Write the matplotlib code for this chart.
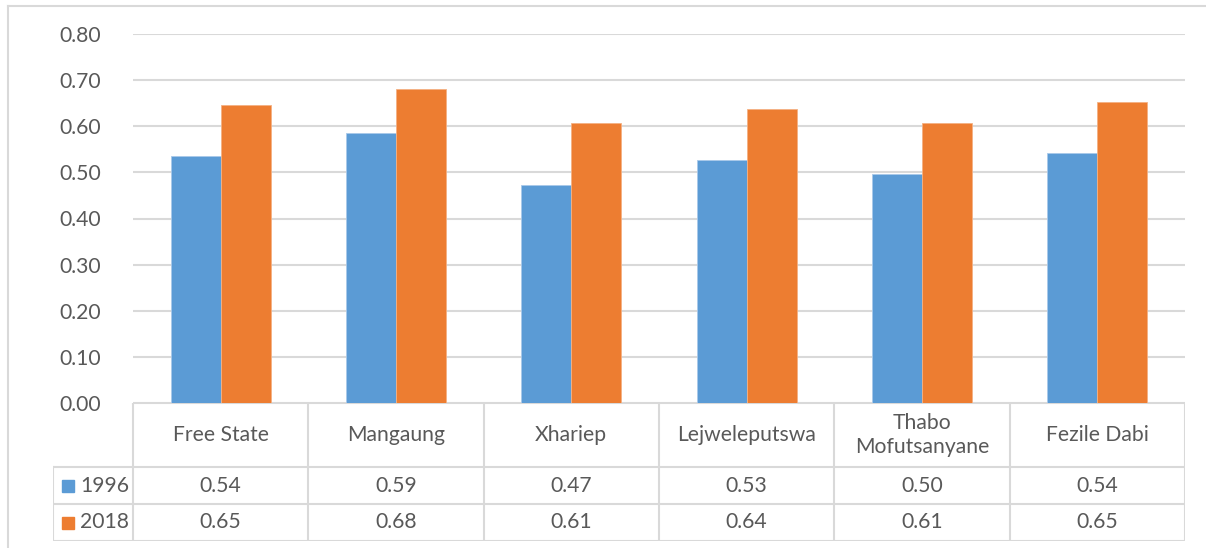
import matplotlib
matplotlib.use("Agg")
import matplotlib.pyplot as plt
from matplotlib.patches import Rectangle

plt.rcParams['font.family'] = ['Lato', 'DejaVu Sans']

districts = ["Free State", "Mangaung", "Xhariep", "Lejweleputswa",
             "Thabo\nMofutsanyane", "Fezile Dabi"]
series_names = ["1996", "2018"]
values_1996 = [0.535, 0.586, 0.472, 0.527, 0.496, 0.543]
values_2018 = [0.646, 0.680, 0.607, 0.637, 0.608, 0.652]
y_ticks = [0.0, 0.1, 0.2, 0.3, 0.4, 0.5, 0.6, 0.7, 0.8]

BLUE = "#5B9BD5"
ORANGE = "#ED7D31"
GRID = "#D9D9D9"
TEXT = "#595959"
FS = 15.2

W, H = 1206, 548
fig = plt.figure(figsize=(W / 100, H / 100), dpi=100)


def fx(px):
    return px / W


def fy(py):
    return 1 - py / H


# outer chart frame
fig.add_artist(plt.Line2D([fx(8), fx(8)], [fy(6), fy(560)], color=GRID, lw=1.5))
fig.add_artist(plt.Line2D([fx(8), fx(1220)], [fy(6), fy(6)], color=GRID, lw=1.5))

# bar plot area
left, right, top, bottom = 133, 1185, 34, 403
ax = fig.add_axes([fx(left), fy(bottom), fx(right - left), (bottom - top) / H])
n = len(districts)
x = list(range(n))
bw = 0.285
ax.bar([i - bw / 2 for i in x], values_1996, width=bw, color=BLUE,
       edgecolor="#A9C9EA", linewidth=0.6, zorder=3)
ax.bar([i + bw / 2 for i in x], values_2018, width=bw, color=ORANGE,
       edgecolor="#F4B183", linewidth=0.6, zorder=3)
ax.set_xlim(-0.5, n - 0.5)
ax.set_ylim(0, 0.8)
ax.set_yticks(y_ticks)
ax.set_yticklabels([f"{v:.2f}" for v in y_ticks], color=TEXT, fontsize=FS)
ax.tick_params(axis="y", length=0, pad=23)
ax.set_xticks([])
ax.grid(axis="y", color=GRID, lw=1.5, zorder=0)
for s in ax.spines.values():
    s.set_visible(False)

# data table under the bars
tleft, tright, ttop, tbottom = 53, 1185, 403, 541
row1, row2 = 467, 504
colw = (right - left) / n
tab = fig.add_axes([fx(tleft), fy(tbottom), fx(tright - tleft), (tbottom - ttop) / H])
key_w = (left - tleft) / colw
tab.set_xlim(-0.5 - key_w, n - 0.5)
tab.set_ylim(tbottom, ttop)
tab.axis("off")
lk = dict(color=GRID, lw=1.5, solid_capstyle="projecting")
tab.plot([-0.5, n - 0.5], [ttop, ttop], **lk)
for yy in (row1, row2, tbottom):
    tab.plot([-0.5 - key_w, n - 0.5], [yy, yy], **lk)
for i in range(n + 1):
    tab.plot([i - 0.5, i - 0.5], [ttop, tbottom], **lk)
tab.plot([-0.5 - key_w] * 2, [row1, tbottom], **lk)

for i, name in enumerate(districts):
    tab.text(i, (ttop + row1) / 2, name, ha="center", va="center",
             color=TEXT, fontsize=FS, linespacing=1.3)
    tab.text(i, (row1 + row2) / 2, f"{values_1996[i]:.2f}", ha="center",
             va="center", color=TEXT, fontsize=FS)
    tab.text(i, (row2 + tbottom) / 2, f"{values_2018[i]:.2f}", ha="center",
             va="center", color=TEXT, fontsize=FS)

sq = 12 / colw
for (ya, yb), name, col in zip([(row1, row2), (row2, tbottom)], series_names, [BLUE, ORANGE]):
    yc = (ya + yb) / 2
    x0 = -0.5 - key_w + 9 / colw
    tab.add_patch(Rectangle((x0, yc - 6), sq, 12, color=col))
    tab.text(x0 + sq + 6 / colw, yc, name, ha="left", va="center",
             color=TEXT, fontsize=FS)

fig.savefig("out.png", dpi=100, facecolor="white")
